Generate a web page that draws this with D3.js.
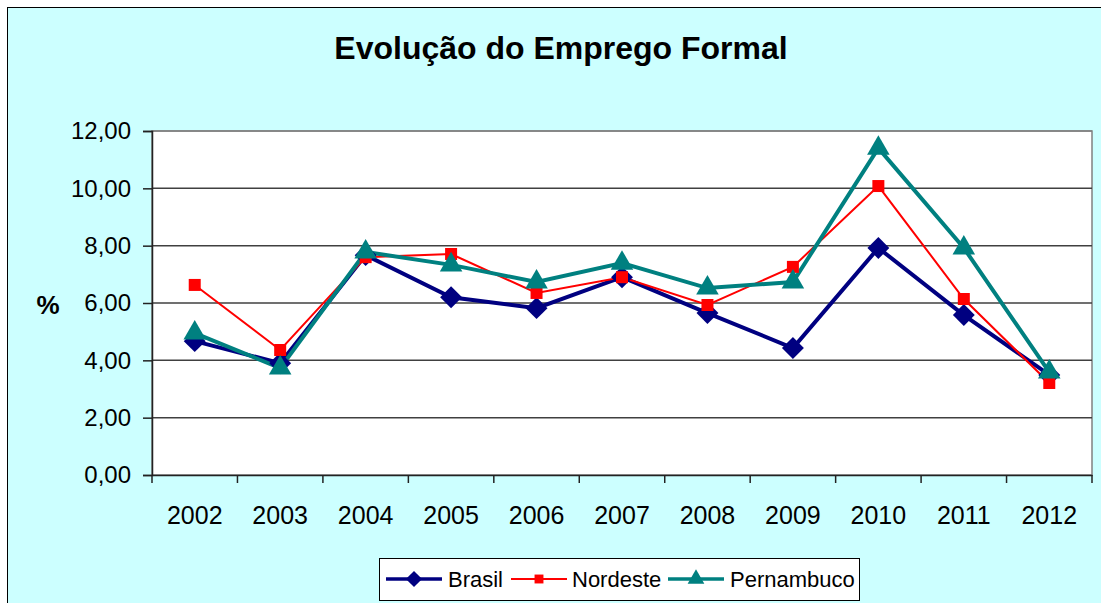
<!DOCTYPE html>
<html>
<head>
<meta charset="utf-8">
<script src="https://cdn.jsdelivr.net/npm/d3@7"></script>
<style>
  body { margin: 0; background: #fff; }
  text { font-family: "Liberation Sans", Arial, sans-serif; }
</style>
</head>
<body>
<svg id="chart" width="1101" height="603"></svg>
<script>
// Data
var years = ["2002","2003","2004","2005","2006","2007","2008","2009","2010","2011","2012"];
var brasil     = [4.67, 3.90, 7.67, 6.20, 5.82, 6.90, 5.65, 4.43, 7.92, 5.58, 3.49];
var nordeste   = [6.63, 4.36, 7.60, 7.71, 6.35, 6.90, 5.93, 7.26, 10.08, 6.14, 3.21];
var pernambuco = [4.95, 3.73, 7.78, 7.33, 6.73, 7.39, 6.52, 6.73, 11.40, 7.92, 3.59];
var yTicks = [0, 2, 4, 6, 8, 10, 12];

var series = [
  { name: "Brasil", values: brasil, color: "#000080", width: 4, symbol: d3.symbolSquare, size: 240, rotate: 45 },
  { name: "Nordeste", values: nordeste, color: "#ff0000", width: 2, symbol: d3.symbolSquare, size: 144, rotate: 0 },
  { name: "Pernambuco", values: pernambuco, color: "#008080", width: 4, symbol: d3.symbolTriangle, size: 220, rotate: 0 }
];

var svg = d3.select("#chart");

// chart area background + frame
svg.append("rect")
  .attr("x", 7.5).attr("y", 7.5)
  .attr("width", 1110).attr("height", 620)
  .attr("fill", "#ccffff")
  .attr("stroke", "#000").attr("stroke-width", 1);

var plot = { left: 152, top: 131, right: 1092, bottom: 475 };

var x = d3.scaleBand().domain(years).range([plot.left, plot.right]);
var y = d3.scaleLinear().domain([0, 12]).range([plot.bottom, plot.top]);

// plot background
svg.append("rect")
  .attr("x", plot.left).attr("y", plot.top)
  .attr("width", plot.right - plot.left).attr("height", plot.bottom - plot.top)
  .attr("fill", "#fff")
  .attr("stroke", "#808080").attr("stroke-width", 1.5);

// gridlines
svg.append("g")
  .selectAll("line")
  .data(yTicks.filter(d => d > 0))
  .join("line")
  .attr("x1", plot.left).attr("x2", plot.right)
  .attr("y1", d => y(d)).attr("y2", d => y(d))
  .attr("stroke", d => d === 12 ? "#808080" : "#404040")
  .attr("stroke-width", 1.5);

// y axis
var fmt = d => d3.format(".2f")(d).replace(".", ",");
var yAxis = svg.append("g")
  .attr("transform", "translate(" + plot.left + ",0)")
  .call(d3.axisLeft(y).tickValues(yTicks).tickFormat(fmt).tickSize(9).tickPadding(12));
yAxis.select(".domain").attr("stroke", "#222").attr("stroke-width", 1.5);
yAxis.selectAll(".tick line").attr("stroke", "#222").attr("stroke-width", 1.5);
yAxis.selectAll("text").attr("font-size", 24).attr("fill", "#000")
  .style("font-family", "'Liberation Sans', Arial, sans-serif");

// x axis: ticks on category boundaries
var xAxis = svg.append("g")
  .attr("transform", "translate(0," + plot.bottom + ")")
  .call(d3.axisBottom(x).tickSize(0).tickPadding(31));
xAxis.select(".domain").attr("stroke", "#222").attr("stroke-width", 1.5);
xAxis.selectAll("text").attr("font-size", 25).attr("fill", "#000")
  .style("font-family", "'Liberation Sans', Arial, sans-serif");
xAxis.append("g")
  .selectAll("line")
  .data(years.concat(["end"]))
  .join("line")
  .attr("x1", (d, i) => plot.left + i * x.step())
  .attr("x2", (d, i) => plot.left + i * x.step())
  .attr("y1", 0).attr("y2", 8)
  .attr("stroke", "#222").attr("stroke-width", 1.5);

// lines and markers
var line = d3.line()
  .x((d, i) => x(years[i]) + x.bandwidth() / 2)
  .y(d => y(d));

series.forEach(function(s) {
  svg.append("path")
    .datum(s.values)
    .attr("d", line)
    .attr("fill", "none")
    .attr("stroke", s.color)
    .attr("stroke-width", s.width)
    .attr("stroke-linejoin", "miter");
});

series.forEach(function(s) {
  svg.append("g")
    .selectAll("path")
    .data(s.values)
    .join("path")
    .attr("d", d3.symbol().type(s.symbol).size(s.size))
    .attr("transform", (d, i) => "translate(" + (x(years[i]) + x.bandwidth() / 2) + "," + y(d) + ") rotate(" + s.rotate + ")")
    .attr("fill", s.color);
});

// title
svg.append("text")
  .attr("x", 561).attr("y", 59)
  .attr("text-anchor", "middle")
  .attr("font-size", 32).attr("font-weight", "bold")
  .text("Evolução do Emprego Formal");

// y axis title
svg.append("text")
  .attr("x", 48).attr("y", 314)
  .attr("text-anchor", "middle")
  .attr("font-size", 26).attr("font-weight", "bold")
  .text("%");

// legend
var legend = svg.append("g");
legend.append("rect")
  .attr("x", 379.5).attr("y", 558.5)
  .attr("width", 480).attr("height", 42)
  .attr("fill", "#fff").attr("stroke", "#000").attr("stroke-width", 1);

var legendX = [386, 511, 668];
var legendTextX = [448, 572, 730];
series.forEach(function(s, i) {
  var g = legend.append("g").attr("transform", "translate(0,579)");
  g.append("line")
    .attr("x1", legendX[i]).attr("x2", legendX[i] + 56)
    .attr("y1", 0).attr("y2", 0)
    .attr("stroke", s.color).attr("stroke-width", s.width === 4 ? 3.5 : 2);
  g.append("path")
    .attr("d", d3.symbol().type(s.symbol).size(s.size * 0.55))
    .attr("transform", "translate(" + (legendX[i] + 28) + ",0) rotate(" + s.rotate + ")")
    .attr("fill", s.color);
  g.append("text")
    .attr("x", legendTextX[i]).attr("y", 8)
    .attr("font-size", 22)
    .text(s.name);
});
</script>
</body>
</html>
